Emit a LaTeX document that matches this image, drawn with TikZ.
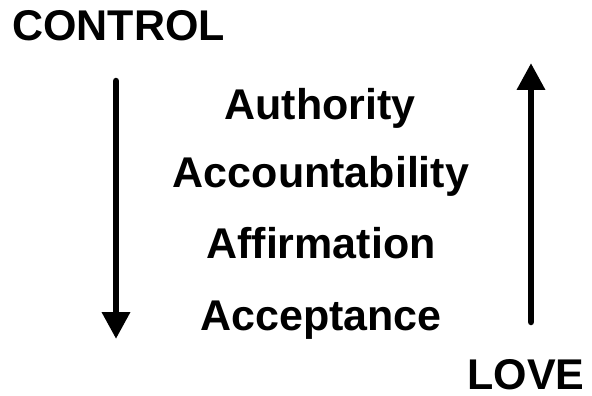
\documentclass[tikz,border=0pt]{standalone}
\usepackage{fontspec}
\setmainfont{Liberation Sans}
\usetikzlibrary{arrows.meta}
\tikzset{
  lbl/.style={anchor=base, inner sep=0pt, font=\bfseries\fontsize{43pt}{45pt}\selectfont},
  bigarrow/.style={line width=6.5pt, line cap=round, -{Triangle[length=27pt,width=27pt]}}
}
\begin{document}
\begin{tikzpicture}
\useasboundingbox (0pt,0pt) rectangle (592pt,-396pt);
\node[lbl] (control) at (118.5pt,-41pt) {CONTROL};
\node[lbl] (love) at (526pt,-389pt) {LOVE};
\node[lbl] (authority) at (320pt,-119pt) {Authority};
\node[lbl] (accountability) at (321pt,-187pt) {Accountability};
\node[lbl] (affirmation) at (321pt,-258pt) {Affirmation};
\node[lbl] (acceptance) at (321pt,-330pt) {Acceptance};
\coordinate (ltop) at (116pt,-81pt);
\coordinate (lbot) at (116pt,-339pt);
\coordinate (rbot) at (531pt,-322pt);
\coordinate (rtop) at (531pt,-63pt);
\draw[bigarrow] (ltop) -- (lbot);
\draw[bigarrow] (rbot) -- (rtop);
\end{tikzpicture}
\end{document}
